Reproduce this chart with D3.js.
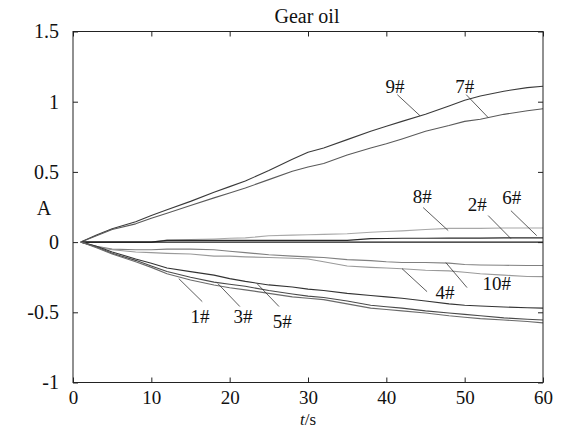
<!DOCTYPE html>
<html>
<head>
<meta charset="utf-8">
<script src="https://cdn.jsdelivr.net/npm/d3@7"></script>
<style>
  html, body { margin: 0; padding: 0; background: #fff; }
  svg { display: block; }
  text { font-family: "Times New Roman", "Liberation Serif", Times, "DejaVu Serif", serif; fill: #111; }
</style>
</head>
<body>
<svg id="chart" width="572" height="429"></svg>
<script>
// Sampling times (s)
const times = [1, 3, 5, 8, 10, 12, 15, 18, 20, 22, 25, 28, 30, 32, 35, 38, 40, 42, 45, 48, 50, 52, 55, 58, 60];

// Response A for each gear oil sample
const s9  = [0, 0.05, 0.095, 0.145, 0.19, 0.23, 0.29, 0.355, 0.395, 0.435, 0.51, 0.59, 0.64, 0.67, 0.73, 0.79, 0.825, 0.86, 0.91, 0.97, 1.01, 1.04, 1.075, 1.1, 1.11];
const s7  = [0, 0.045, 0.09, 0.13, 0.17, 0.205, 0.26, 0.315, 0.35, 0.385, 0.445, 0.505, 0.535, 0.56, 0.62, 0.67, 0.7, 0.735, 0.79, 0.83, 0.86, 0.875, 0.91, 0.935, 0.95];
const s8  = [0, 0, 0, 0, 0, 0.015, 0.018, 0.022, 0.027, 0.03, 0.045, 0.05, 0.052, 0.055, 0.06, 0.07, 0.075, 0.08, 0.09, 0.098, 0.098, 0.098, 0.1, 0.1, 0.1];
const s6  = [0, 0, 0, 0, 0, 0.012, 0.012, 0.012, 0.012, 0.012, 0.012, 0.012, 0.012, 0.012, 0.012, 0.025, 0.026, 0.027, 0.027, 0.028, 0.028, 0.028, 0.03, 0.03, 0.03];
const s2  = [0, 0, 0, 0, 0, 0, 0, 0, 0, 0, 0, 0, 0, 0, 0, 0, 0, 0, 0, 0, 0, 0, 0, 0, 0];
const s10 = [0, -0.03, -0.05, -0.055, -0.055, -0.05, -0.05, -0.055, -0.065, -0.075, -0.09, -0.1, -0.105, -0.11, -0.125, -0.132, -0.14, -0.145, -0.145, -0.15, -0.16, -0.163, -0.165, -0.167, -0.167];
const s4  = [0, -0.035, -0.055, -0.07, -0.075, -0.08, -0.085, -0.1, -0.1, -0.105, -0.11, -0.115, -0.12, -0.14, -0.17, -0.18, -0.185, -0.19, -0.2, -0.205, -0.215, -0.225, -0.235, -0.245, -0.246];
const s5  = [0, -0.03, -0.07, -0.12, -0.15, -0.185, -0.21, -0.235, -0.26, -0.28, -0.305, -0.32, -0.335, -0.345, -0.365, -0.38, -0.39, -0.4, -0.42, -0.44, -0.45, -0.455, -0.462, -0.468, -0.47];
const s3  = [0, -0.035, -0.08, -0.13, -0.17, -0.21, -0.25, -0.285, -0.3, -0.315, -0.345, -0.37, -0.385, -0.395, -0.42, -0.45, -0.46, -0.47, -0.49, -0.505, -0.515, -0.525, -0.54, -0.55, -0.555];
const s1  = [0, -0.04, -0.085, -0.14, -0.18, -0.225, -0.27, -0.305, -0.325, -0.34, -0.365, -0.39, -0.4, -0.41, -0.44, -0.47, -0.48, -0.49, -0.505, -0.525, -0.535, -0.545, -0.555, -0.565, -0.575];

const seriesNames = ["9#", "7#", "8#", "6#", "2#", "10#", "4#", "5#", "3#", "1#"];
const seriesValues = [s9, s7, s8, s6, s2, s10, s4, s5, s3, s1];
const seriesColors = ["#3a3a3a", "#5a5a5a", "#a8a8a8", "#2a2a2a", "#1a1a1a", "#808080", "#9a9a9a", "#333333", "#4a4a4a", "#6a6a6a"];

// Tick values
const xTicks = [0, 10, 20, 30, 40, 50, 60];
const yTicks = [-1, -0.5, 0, 0.5, 1, 1.5];

// Curve labels: text position and leader line, in data units (t, A)
const labelNames = ["9#", "7#", "8#", "2#", "6#", "4#", "10#", "1#", "3#", "5#"];
const labelText  = [[41.1, 1.065], [50.0, 1.065], [44.6, 0.281], [51.6, 0.224], [56.0, 0.274], [47.5, -0.402], [54.1, -0.338], [16.2, -0.573], [21.7, -0.573], [26.7, -0.609]];
const leaderFrom = [[41.4, 1.05], [50.2, 1.05], [44.7, 0.246], [53.0, 0.189], [55.9, 0.224], [42.0, -0.189], [47.6, -0.146], [13.5, -0.26], [18.5, -0.296], [23.5, -0.296]];
const leaderTo   = [[44.3, 0.9], [53.0, 0.887], [47.9, 0.082], [55.9, 0.025], [59.2, 0.046], [45.2, -0.353], [50.3, -0.324], [16.5, -0.424], [21.3, -0.459], [26.3, -0.459]];

const margin = { left: 73, right: 29, top: 31.5, bottom: 46.5 };
const W = 572, H = 429;
const svg = d3.select("#chart");
const serif = '"Times New Roman", "Liberation Serif", Times, "DejaVu Serif", serif';

const x = d3.scaleLinear().domain([0, 60]).range([margin.left, W - margin.right]);
const y = d3.scaleLinear().domain([-1, 1.5]).range([H - margin.bottom, margin.top]);

const line = d3.line()
  .x((d, i) => x(times[i]))
  .y(d => y(d));

// Curves
const g = svg.append("g");
seriesValues.forEach((vals, k) => {
  g.append("path")
    .datum(vals)
    .attr("fill", "none")
    .attr("stroke", seriesColors[k])
    .attr("stroke-width", 1.1)
    .attr("stroke-linejoin", "round")
    .attr("d", line);
});

// Axes box with inward ticks
const tickLen = 5;
svg.append("rect")
  .attr("x", x(0)).attr("y", y(1.5))
  .attr("width", x(60) - x(0)).attr("height", y(-1) - y(1.5))
  .attr("fill", "none").attr("stroke", "#222").attr("stroke-width", 1);

const bottomAxis = d3.axisBottom(x).tickValues(xTicks).tickSizeInner(-tickLen).tickSizeOuter(0).tickPadding(8)
  .tickFormat(d => String(d));
const topAxis = d3.axisTop(x).tickValues(xTicks).tickSizeInner(-tickLen).tickSizeOuter(0).tickFormat("");
const leftAxis = d3.axisLeft(y).tickValues(yTicks).tickSizeInner(-tickLen).tickSizeOuter(0).tickPadding(14)
  .tickFormat(d => String(d));
const rightAxis = d3.axisRight(y).tickValues(yTicks).tickSizeInner(-tickLen).tickSizeOuter(0).tickFormat("");

function styleAxis(sel, size) {
  sel.attr("font-family", serif).attr("font-size", size);
  sel.select(".domain").remove();
  sel.selectAll(".tick line").attr("stroke", "#222");
  sel.selectAll(".tick text")
    .attr("font-family", serif)
    .style("font-family", serif)
    .style("font-size", size + "px")
    .attr("fill", "#111");
}

svg.append("g").attr("transform", `translate(0,${y(-1)})`).call(bottomAxis).call(styleAxis, 19);
svg.append("g").attr("transform", `translate(0,${y(1.5)})`).call(topAxis).call(styleAxis, 19);
svg.append("g").attr("transform", `translate(${x(0)},0)`).call(leftAxis).call(styleAxis, 20);
svg.append("g").attr("transform", `translate(${x(60)},0)`).call(rightAxis).call(styleAxis, 20);

// Leader lines and curve labels
labelNames.forEach((name, k) => {
  svg.append("line")
    .attr("x1", x(leaderFrom[k][0])).attr("y1", y(leaderFrom[k][1]))
    .attr("x2", x(leaderTo[k][0])).attr("y2", y(leaderTo[k][1]))
    .attr("stroke", "#333").attr("stroke-width", 0.8);
  svg.append("text")
    .attr("x", x(labelText[k][0])).attr("y", y(labelText[k][1]))
    .attr("text-anchor", "middle")
    .style("font-size", "19px")
    .text(name);
});

// Title and axis labels
svg.append("text")
  .attr("x", 307).attr("y", 23)
  .attr("text-anchor", "middle")
  .style("font-size", "20px")
  .text("Gear oil");

svg.append("text")
  .attr("x", 44).attr("y", 215)
  .attr("text-anchor", "middle")
  .style("font-size", "20px")
  .text("A");

const xl = svg.append("text")
  .attr("x", 308).attr("y", 424.5)
  .attr("text-anchor", "middle")
  .style("font-size", "17px");
xl.append("tspan").style("font-style", "italic").text("t");
xl.append("tspan").text("/s");
</script>
</body>
</html>
